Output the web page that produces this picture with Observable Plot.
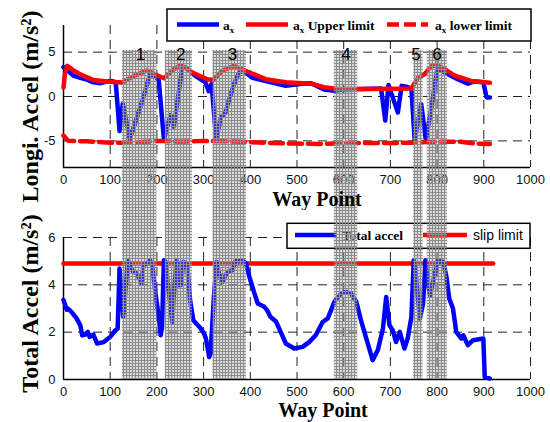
<!DOCTYPE html>
<html><head><meta charset="utf-8">
<script src="https://cdn.jsdelivr.net/npm/d3@7"></script>
<script src="https://cdn.jsdelivr.net/npm/@observablehq/plot@0.6"></script>
<style>
body{margin:0;background:#fff;}
#chart{width:550px;height:422px;position:relative;background:#fff;}
#chart svg{display:block;}
</style></head><body><div id="chart"></div>
<script>
// ---------- data ----------
const axWP  = [0,5,10,21,36,50,64,79,90,100,107,112,120,127,142,157,175,185,196,204,215,229,236,240,254,261,283,304,311,317,327,337,347,354,365,376,385,405,433,476,505,530,558,580,600,640,680,689,696,716,724,735,745,752,766,776,788,800,809,838,866,880,899,906,913];
const axVal = [3.3,3.1,2.9,2.35,2.1,1.9,1.6,1.5,1.65,1.75,1.7,1.5,-3.9,-0.8,-4.8,-2.4,0.6,2.5,2.3,1.8,-4.8,-2.1,-3.4,-2.1,3.2,3.3,2.3,1.6,0.6,1.4,-4.8,-2.35,-1.8,-0.5,1.4,2.7,2.9,2.1,1.75,1.2,1.4,1.5,0.8,0.65,0.8,0.85,0.9,-2.7,1.3,-1.8,1.2,1.1,0.9,-4.95,-0.85,-4.95,-1.2,2.95,2.9,2.1,1.45,1.7,1.6,-0.1,-0.1];

const upperWP  = [0,3,8,20,36,64,100,126,150,179,198,215,235,251,276,308,320,340,365,392,433,476,530,558,587,650,745,759,773,788,800,809,838,873,913];
const upperVal = [1.0,2.5,3.45,3.0,2.5,1.85,1.65,1.57,2.3,2.95,2.45,2.05,3.0,3.55,2.7,1.95,1.85,2.9,3.45,2.85,1.95,1.6,1.45,1.05,0.85,0.85,0.9,2.1,2.5,3.4,3.5,3.3,2.35,1.75,1.55];

const lowerWP  = [0,10,50,100,150,200,250,300,350,400,450,500,550,600,650,700,750,800,850,880,913];
const lowerVal = [-4.4,-5.0,-5.05,-5.2,-5.2,-5.0,-5.1,-5.0,-5.05,-5.15,-5.25,-5.3,-5.35,-5.25,-5.25,-5.25,-5.2,-5.1,-5.1,-5.3,-5.35];

const totWP  = [0,7,9,17,28,36,40,47,52,56,64,72,86,100,111,116,120,128,138,149,156,167,171,178,185,190,197,204,208,211,215,218,225,233,236,242,247,251,257,265,271,278,294,301,305,312,315,322,328,333,340,351,362,369,383,391,398,409,416,430,436,443,455,465,476,494,512,526,540,555,566,580,594,605,616,627,637,662,673,684,691,698,705,712,720,730,737,745,750,755,763,770,775,780,785,791,802,813,820,826,834,841,852,856,866,877,899,902,913];
const totVal = [3.36,2.95,3.0,2.86,2.58,2.29,1.87,1.9,2.01,1.8,1.9,1.52,1.58,1.8,2.08,2.15,4.69,2.65,5.04,4.55,4.5,4.08,4.83,4.9,5.04,4.83,3.63,2.65,1.87,2.2,5.04,5.0,3.77,2.43,3.5,5.04,3.98,3.98,4.97,4.83,3.35,2.5,2.15,1.94,1.73,0.95,1.09,3.49,4.97,4.48,4.12,4.55,4.62,5.04,5.04,4.9,4.34,3.63,3.21,3.07,2.93,2.65,2.45,2.01,1.52,1.31,1.38,1.58,1.87,2.43,2.58,3.28,3.63,3.7,3.63,3.28,2.5,0.82,1.24,2.15,3.49,2.29,2.08,1.59,2.01,1.31,1.73,2.65,5.04,4.34,2.58,3.2,5.04,4.1,3.56,4.1,5.04,4.97,4.34,3.42,3.0,2.01,1.73,1.87,1.45,1.66,1.73,0.11,0.04];

const slipWP  = [0,920];
const slipVal = [4.9,4.9];

const bandStart  = [126,218,320,580,750,779];
const bandEnd    = [200,276,392,630,770,822];
const bandLabels = ["1","2","3","4","5","6"];
const bandLabelWP = [165,251,362,605,755,800];

const xTicks = [0,100,200,300,400,500,600,700,800,900,1000];
const xGrid  = [100,200,300,400,500,600,700,800,900,1000];
const yTicksTop = [-5,0,5];
const yTicksBot = [0,2,4,6];
const yGridBot  = [2,4,6];

// ---------- tables ----------
const zip = (xs, ys) => xs.map((x, i) => ({x, y: ys[i]}));
const axData = zip(axWP, axVal), upperData = zip(upperWP, upperVal), lowerData = zip(lowerWP, lowerVal);
const totData = zip(totWP, totVal), slipData = zip(slipWP, slipVal);
const bands = bandStart.map((s, i) => ({start: s, end: bandEnd[i], label: bandLabels[i], mid: bandLabelWP[i]}));

const serif = "'Liberation Serif','Times New Roman',serif";
const sans = "'Liberation Sans',Arial,sans-serif";
const gridOpts = {stroke: "#222", strokeOpacity: 1, strokeWidth: 1, strokeDasharray: "9,6"};
const baseStyle = {fontFamily: sans, fontSize: "13px", color: "#111", background: "white", overflow: "hidden"};
const fmt = d => String(d);

function addPattern(svg, id) {
  const s = d3.select(svg);
  const p = s.insert("defs", ":first-child").append("pattern")
    .attr("id", id).attr("width", 3).attr("height", 3).attr("patternUnits", "userSpaceOnUse");
  p.append("rect").attr("width", 3).attr("height", 3).attr("fill", "rgba(150,150,150,0.35)");
  p.append("path").attr("d", "M0,0.5H3M0.5,0V3").attr("stroke", "#8c8c8c").attr("stroke-width", 1).attr("fill", "none");
  s.selectAll('g[aria-label="rect"] rect').attr("fill", `url(#${id})`);
}

function legendLine(g, x1, x2, y, color, dash) {
  g.append("line").attr("x1", x1).attr("x2", x2).attr("y1", y).attr("y2", y)
    .attr("stroke", color).attr("stroke-width", 4.5).attr("stroke-dasharray", dash || null);
}
function axLabel(g, x, y, rest) {
  const t = g.append("text").attr("x", x).attr("y", y).attr("text-anchor", "start").attr("font-family", serif)
    .attr("font-weight", "bold").attr("font-size", 13.5).attr("fill", "#000");
  t.append("tspan").text("a");
  t.append("tspan").attr("font-size", 9).attr("dy", 3).text("x");
  if (rest) t.append("tspan").attr("dy", -3).text(rest);
}

// ---------- top panel ----------
const topPlot = Plot.plot({
  width: 550, height: 210,
  marginLeft: 63, marginRight: 20, marginTop: 25, marginBottom: 43,
  style: baseStyle,
  x: {domain: [0, 1000]},
  y: {domain: [-8, 8]},
  marks: [
    Plot.gridX(xGrid, gridOpts),
    Plot.gridY(yTicksTop, gridOpts),
    Plot.axisX(xTicks, {tickSize: 0, tickPadding: 7, label: null, fontSize: 13, tickFormat: fmt}),
    Plot.axisY(yTicksTop, {tickSize: 0, tickPadding: 8, label: null, fontSize: 13, tickFormat: fmt}),
    Plot.ruleX([0], {stroke: "#000", strokeWidth: 1.5}),
    Plot.ruleY([-8], {stroke: "#000", strokeWidth: 1.5}),
    Plot.line(axData, {x: "x", y: "y", stroke: "#0000ff", strokeWidth: 4.5}),
    Plot.line(lowerData, {x: "x", y: "y", stroke: "#ff0000", strokeWidth: 4.5, strokeDasharray: "13,6"}),
    Plot.line(upperData, {x: "x", y: "y", stroke: "#ff0000", strokeWidth: 4.5}),
    Plot.rect(bands, {x1: "start", x2: "end", y1: 5.2, y2: -20, fill: "#aaa"}),
    Plot.text(bands, {x: "mid", y: 5.2, text: "label", lineAnchor: "top", dy: -2, fontSize: 17, fontFamily: sans, fill: "#000"}),
    Plot.text(["Way Point"], {frameAnchor: "bottom", lineAnchor: "bottom", textAnchor: "middle", dx: 20, dy: 38, fontFamily: serif, fontWeight: "bold", fontSize: 20, fill: "#000"}),
    Plot.text(["Longi. Accel (m/s²)"], {frameAnchor: "left", rotate: -90, textAnchor: "middle", lineAnchor: "bottom", dx: -26, dy: 10, fontFamily: serif, fontWeight: "bold", fontSize: 24, fill: "#000"})
  ]
});
addPattern(topPlot, "hatchTop");
{
  const s = d3.select(topPlot);
  const g = d3.create("svg:g");
  g.append("rect").attr("x", 167).attr("y", 9).attr("width", 364).attr("height", 32)
    .attr("fill", "#fff").attr("stroke", "#000").attr("stroke-width", 1.5);
  legendLine(g, 177, 219, 24.5, "#0000ff");
  axLabel(g, 223, 29.5, "");
  legendLine(g, 246, 288, 24.5, "#ff0000");
  axLabel(g, 293, 29.5, " Upper limit");
  legendLine(g, 387, 428, 24.5, "#ff0000", "12,5");
  axLabel(g, 435, 29.5, " lower limit");
  const bandG = s.select('g[aria-label="rect"]').node();
  topPlot.insertBefore(g.node(), bandG);
}

// ---------- bottom panel ----------
const botPlot = Plot.plot({
  width: 550, height: 212,
  marginLeft: 63, marginRight: 20, marginTop: 27, marginBottom: 43,
  style: baseStyle,
  x: {domain: [0, 1000]},
  y: {domain: [0, 6]},
  marks: [
    Plot.gridX(xGrid, gridOpts),
    Plot.gridY(yGridBot, gridOpts),
    Plot.axisX(xTicks, {tickSize: 0, tickPadding: 7, label: null, fontSize: 13, tickFormat: fmt}),
    Plot.axisY(yTicksBot, {tickSize: 0, tickPadding: 8, label: null, fontSize: 13, tickFormat: fmt}),
    Plot.ruleX([0], {stroke: "#000", strokeWidth: 1.5}),
    Plot.ruleY([0], {stroke: "#000", strokeWidth: 1.5}),
    Plot.line(slipData, {x: "x", y: "y", stroke: "#ff0000", strokeWidth: 4.5}),
    Plot.line(totData, {x: "x", y: "y", stroke: "#0000ff", strokeWidth: 4.5}),
    Plot.rect(bands, {x1: "start", x2: "end", y1: 0, y2: 10, fill: "#aaa"}),
    Plot.text(["Way Point"], {frameAnchor: "bottom", lineAnchor: "bottom", textAnchor: "middle", dx: 26, dy: 37, fontFamily: serif, fontWeight: "bold", fontSize: 20, fill: "#000"}),
    Plot.text(["Total Accel (m/s²)"], {frameAnchor: "left", rotate: -90, textAnchor: "middle", lineAnchor: "bottom", dx: -26, dy: -5, fontFamily: serif, fontWeight: "bold", fontSize: 24, fill: "#000"})
  ]
});
addPattern(botPlot, "hatchBot");
{
  const s = d3.select(botPlot);
  const g = d3.create("svg:g");
  g.append("rect").attr("x", 287).attr("y", 13.3).attr("width", 243).attr("height", 25)
    .attr("fill", "#fff").attr("stroke", "#000").attr("stroke-width", 1.5);
  legendLine(g, 295, 337, 25, "#0000ff");
  g.append("text").attr("x", 341.7).attr("y", 30).attr("text-anchor", "start").attr("font-family", serif).attr("font-weight", "bold")
    .attr("font-size", 13.5).attr("fill", "#000").text("Total accel");
  legendLine(g, 423, 467, 25, "#ff0000");
  g.append("text").attr("x", 473).attr("y", 30).attr("text-anchor", "start").attr("font-family", sans)
    .attr("font-size", 14).attr("fill", "#000").text("slip limit");
  const bandG = s.select('g[aria-label="rect"]').node();
  botPlot.insertBefore(g.node(), bandG);
}

const chart = document.getElementById("chart");
chart.appendChild(topPlot);
chart.appendChild(botPlot);
</script></body></html>
